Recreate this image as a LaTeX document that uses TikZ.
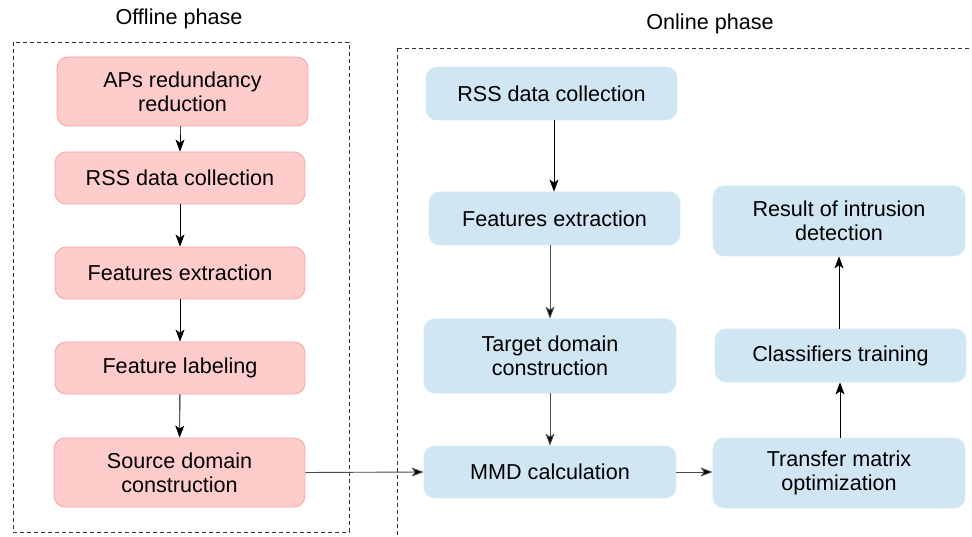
\documentclass[tikz,border=0pt]{standalone}
\usepackage{fontspec}
\setmainfont{Liberation Sans}
\usetikzlibrary{arrows.meta,calc}
\definecolor{pinkfill}{HTML}{FFCCCC}
\definecolor{pinkdraw}{HTML}{F5A3A3}
\definecolor{bluefill}{HTML}{D0E6F3}
\definecolor{bluedraw}{HTML}{D6EAF5}
\definecolor{dashcol}{HTML}{333333}
\begin{document}
\begin{tikzpicture}[x=1pt,y=-1pt,
  every node/.style={font=\fontsize{21.6}{24}\selectfont, align=center, inner sep=0pt},
  pinkbox/.style={draw=pinkdraw, fill=pinkfill, rounded corners=11pt, line width=0.8pt},
  bluebox/.style={draw=bluedraw, fill=bluefill, rounded corners=11pt, line width=0.8pt},
  phasebox/.style={draw=dashcol, dash pattern=on 4pt off 3pt, line width=0.9pt},
  arr/.style={draw=black, line width=0.9pt, -{Stealth[length=12pt,width=9pt,inset=3pt]}},
  arrg/.style={draw=black!70, line width=0.9pt, -{Stealth[length=12pt,width=9pt,inset=3pt,fill=black]}}]
\useasboundingbox (0,0) rectangle (972,537);
\clip (0,0) rectangle (972,537);

% phase frames
\draw[phasebox] (13,42) rectangle (349,532);
\draw[phasebox] (397,48) rectangle (990,560);
\node (toff) at (179,19) {Offline phase};
\node (ton) at (710,24) {Online phase};

% offline nodes
\node[pinkbox, minimum width=251pt, minimum height=69pt] (P1) at (182.5,91.5) {APs redundancy\\reduction};
\node[pinkbox, minimum width=250pt, minimum height=52pt] (P2) at (180,178) {RSS data collection};
\node[pinkbox, minimum width=250pt, minimum height=52pt] (P3) at (180,273) {Features extraction};
\node[pinkbox, minimum width=250pt, minimum height=52pt] (P4) at (180,368) {Feature labeling};
\node[pinkbox, minimum width=251pt, minimum height=69pt] (P5) at (179.5,472.5) {Source domain\\construction};

% online nodes
\node[bluebox, minimum width=251pt, minimum height=53pt] (B1) at (551.5,93.5) {RSS data collection};
\node[bluebox, minimum width=251pt, minimum height=53pt] (B2) at (554.5,218.5) {Features extraction};
\node[bluebox, minimum width=252pt, minimum height=74pt] (B3) at (550,356) {Target domain\\construction};
\node[bluebox, minimum width=252pt, minimum height=52pt] (B4) at (550,472) {MMD calculation};
\node[bluebox, minimum width=252pt, minimum height=70pt] (B5) at (839,221) {Result of intrusion\\detection};
\node[bluebox, minimum width=251pt, minimum height=53pt] (B6) at (840.5,355.5) {Classifiers training};
\node[bluebox, minimum width=252pt, minimum height=70pt] (B7) at (839,473) {Transfer matrix\\optimization};

% offline arrows
\draw[arr] (180,126) -- (P1.south -| P2.north) -- (P2.north);
\draw[arr] (P2) -- (P3);
\draw[arr] (P3) -- (P4);
\draw[arr] (P4) -- (P5);

% cross arrow
\draw[arrg] (P5.east) -- (B4.west);

% online arrows
\draw[arr] (B1.south -| 554,0) -- (B2.north -| 554,0);
\draw[arrg] (B2.south -| 550,0) -- (B3.north);
\draw[arrg] (B3) -- (B4);
\draw[arrg] (B4.east) -- (B7.west |- B4.east);
\draw[arr] (B7.north -| 840,0) -- (B6.south -| 840,0);
\draw[arr] (B6.north -| 839,0) -- (B5.south -| 839,0);
\end{tikzpicture}
\end{document}
